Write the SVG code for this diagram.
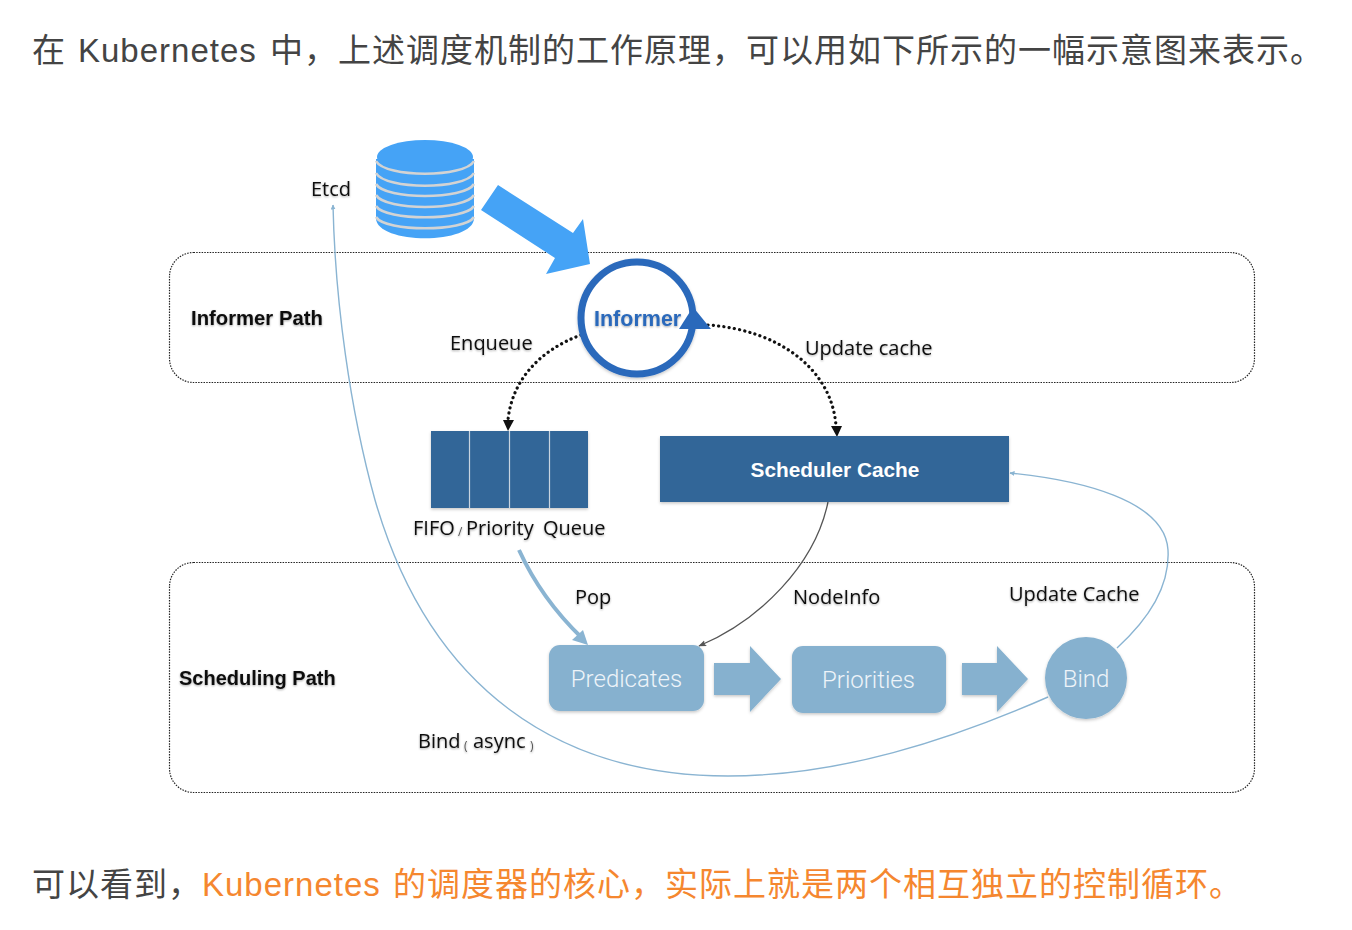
<svg xmlns="http://www.w3.org/2000/svg" width="1352" height="930" viewBox="0 0 1352 930">
<style>
text{font-family:"Liberation Sans","Noto Sans CJK SC",sans-serif}
.zh{font-family:"Liberation Sans","Noto Sans CJK SC",sans-serif;font-size:33px;letter-spacing:1px;fill:#444}
.lb{font-family:"Open Sans","Noto Sans",sans-serif;font-size:20px;fill:#111;filter:url(#ts)}
.sm{font-size:12px;fill:#555}
.b{font-weight:700;font-size:20px;fill:#111;filter:url(#ts)}
.path{fill:none;stroke:#222;stroke-width:1.2;stroke-dasharray:1.5 1.2}
.blue{fill:#86b1cf}
.dark{fill:#326698}
.w{font-family:Roboto,"Liberation Sans",sans-serif;font-weight:300;fill:#eef4f9;font-size:24px;text-anchor:middle}
.dot{fill:none;stroke:#111;stroke-width:3.2;stroke-dasharray:.1 5.2;stroke-linecap:round}
.thin{fill:none;stroke:#8ab4d2;stroke-width:1.4}
.sep{stroke:#c8d4e0;stroke-width:1.2}
.ring{fill:none;stroke:#d3d3d3;stroke-width:2.6}
</style>
<defs>
<marker id="ab" viewBox="0 0 10 10" refX="9" refY="5" markerWidth="5" markerHeight="5" orient="auto-start-reverse" markerUnits="userSpaceOnUse"><path d="M0 0L10 5L0 10z" fill="#8ab4d2"/></marker>
<marker id="ag" viewBox="0 0 10 10" refX="9" refY="5" markerWidth="8" markerHeight="8" orient="auto" markerUnits="userSpaceOnUse"><path d="M0 1L10 5L0 9L2 5z" fill="#555"/></marker>
<filter id="s" x="-10%" y="-10%" width="120%" height="125%"><feDropShadow dx="0" dy="1.500" stdDeviation="1.500" flood-color="#000" flood-opacity=".22"/></filter>
<filter id="ts" x="-5%" y="-20%" width="110%" height="140%"><feDropShadow dx="0" dy="1" stdDeviation="1" flood-color="#000" flood-opacity=".35"/></filter>
</defs>

<text class="zh" y="62"><tspan x="32">在</tspan><tspan x="78">Kubernetes</tspan><tspan x="270">中，上述调度机制的工作原理，可以用如下所示的一幅示意图来表示。</tspan></text>
<text class="zh" y="896"><tspan x="32">可以看到，</tspan><tspan x="202" fill="#f5872f">Kubernetes</tspan><tspan x="393" fill="#f5872f">的调度器的核心，实际上就是两个相互独立的控制循环。</tspan></text>

<g id="informer-path"><rect class="path" x="169.500" y="252.500" width="1085" height="130" rx="24"/><text class="b" x="191" y="325" style="font-size:20.300px">Informer Path</text></g>
<g id="scheduling-path"><rect class="path" x="169.500" y="562.500" width="1085" height="230" rx="24"/><text class="b" x="179" y="685">Scheduling Path</text></g>

<g id="connectors">
<path class="thin" marker-end="url(#ab)" d="M1048 697C950 740 840 776 728 776C560 776 430 690 375 500C350 410 335 300 333 205"/>
<path class="thin" marker-end="url(#ab)" d="M1117 648C1150 618 1170 585 1168 550C1165 500 1080 480 1010 473"/>
<path fill="none" stroke="#555" stroke-width="1.300" marker-end="url(#ag)" d="M828 502C815 565 760 620 699 646"/>
<path class="dot" d="M581 335C540 350 512 380 508 420"/>
<path d="M503 420L514 420L508 431z" fill="#111"/>
<path class="dot" d="M708 325C780 330 832 370 836 426"/>
<path d="M831 426L842 426L837 437z" fill="#111"/>
<path fill="none" stroke="#8ab4d2" stroke-width="4" d="M519 550C535 585 555 612 582 638"/>
<path d="M572 640L583 630L588 645z" fill="#8ab4d2"/>
</g>

<g id="etcd">
<text class="lb" x="311" y="196">Etcd</text>
<path d="M376 159V218C376 245 474 245 474 218V159z" fill="#45a3f6"/>
<ellipse cx="425" cy="157" rx="48" ry="17" fill="#45a3f6"/>
<path class="ring" d="M376 161C385 178 465 178 474 161M376 173C385 190 465 190 474 173M376 184C385 200 465 200 474 184M376 195C385 211 465 211 474 195M376 206C385 221 465 221 474 206M376 217C385 232 465 232 474 217"/>
</g>
<g id="etcd-arrow"><polygon points="498,185 573,233 583,219 590,264 546,274 555,258 481,210" fill="#45a3f6"/></g>

<g id="informer">
<circle cx="637" cy="318" r="56" fill="#fff" stroke="#2a69bb" stroke-width="7" filter="url(#s)"/>
<polygon points="693,307 711,329 679,329" fill="#2a69bb"/>
<text x="594" y="326" font-size="21.500" font-weight="700" fill="#2a69bb" filter="url(#ts)">Informer</text>
</g>
<g id="enqueue"><text class="lb" x="450" y="350">Enqueue</text></g>
<g id="update-cache"><text class="lb" x="805" y="355">Update cache</text></g>

<g id="queue">
<rect class="dark" x="431" y="431" width="157" height="77" filter="url(#s)"/>
<path class="sep" d="M469.500 431V508M509.500 431V508M549.500 431V508"/>
<text class="lb" x="413" y="535">FIFO</text><text class="lb sm" x="458" y="536">/</text><text class="lb" x="466" y="535">Priority</text><text class="lb" x="543" y="535">Queue</text>
</g>
<g id="scheduler-cache">
<rect class="dark" x="660" y="436" width="349" height="66" filter="url(#s)"/>
<text x="835" y="477" fill="#fff" font-size="20.800" font-weight="700" text-anchor="middle">Scheduler Cache</text>
</g>
<g id="pop"><text class="lb" x="575" y="604">Pop</text></g>
<g id="nodeinfo"><text class="lb" x="793" y="604">NodeInfo</text></g>
<g id="update-cache-2"><text class="lb" x="1009" y="601">Update Cache</text></g>
<g id="bind-async"><text class="lb" x="418" y="748">Bind</text><text class="lb sm" x="464" y="750">(</text><text class="lb" x="473" y="748">async</text><text class="lb sm" x="530" y="750">)</text></g>

<g id="predicates"><rect class="blue" x="549" y="645" width="155" height="66" rx="11" filter="url(#s)"/><text class="w" x="626.500" y="687">Predicates</text></g>
<g id="arrow-1"><polygon class="blue" points="714,663 750,663 750,646 781,679 750,712 750,695 714,695" filter="url(#s)"/></g>
<g id="priorities"><rect class="blue" x="792" y="646" width="154" height="67" rx="11" filter="url(#s)"/><text class="w" x="868.500" y="688">Priorities</text></g>
<g id="arrow-2"><polygon class="blue" points="962,663 997,663 997,646 1028,679 997,712 997,695 962,695" filter="url(#s)"/></g>
<g id="bind"><circle class="blue" cx="1086" cy="678" r="41" filter="url(#s)"/><text class="w" x="1086" y="687">Bind</text></g>
</svg>
